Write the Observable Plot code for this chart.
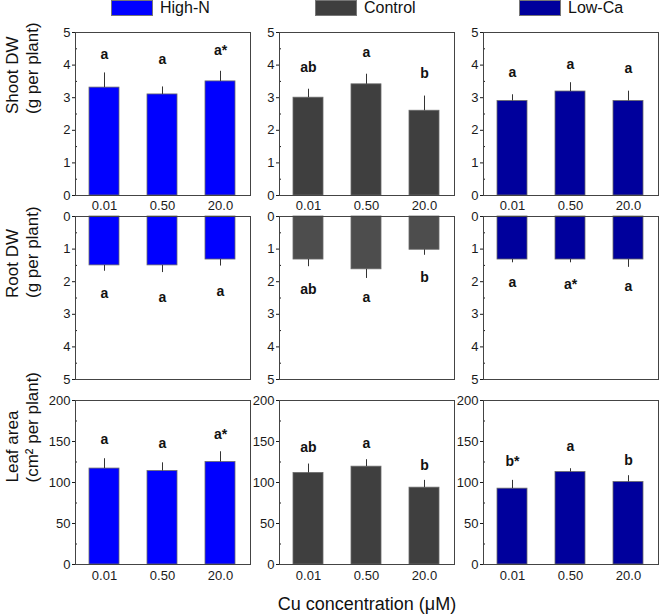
<!DOCTYPE html>
<html><head><meta charset="utf-8">
<script src="https://cdn.jsdelivr.net/npm/d3@7"></script>
<script src="https://cdn.jsdelivr.net/npm/@observablehq/plot@0.6"></script>
<style>
body{margin:0;background:#fff;font-family:"Liberation Sans",Arial,sans-serif}
#fig{position:relative;width:660px;height:615px;overflow:hidden;background:#fff}
#fig .p{position:absolute}
#fig .lg{position:absolute;top:0;display:flex;align-items:center;font-size:16px;color:#111;line-height:16px}
#fig .lg i{display:inline-block;width:40px;height:14px;border:1px solid #777;margin-right:7px;box-sizing:content-box}
</style></head><body><div id="fig"></div>
<script>
// ---- data ----
const treatments = ["High-N", "Control", "Low-Ca"];
const treatmentColors = ["#0000ff", "#3f3f3f", "#00009c"];
const rootColors = ["#0000ff", "#4d4d4d", "#00009c"];
const concs = ["0.01", "0.50", "20.0"];

// rows indexed by treatment, columns by Cu concentration
const shootMean = [[3.31, 3.10, 3.50], [3.00, 3.41, 2.60], [2.90, 3.19, 2.90]];
const shootErr  = [[0.45, 0.23, 0.31], [0.26, 0.31, 0.45], [0.19, 0.27, 0.30]];
const shootLetters = [["a", "a", "a*"], ["ab", "a", "b"], ["a", "a", "a"]];
const shootLetterY = [[4.34, 4.16, 4.46], [3.93, 4.38, 3.74], [3.78, 4.03, 3.88]];
const shootTicks = [0, 1, 2, 3, 4, 5];
const shootMinor = [0.5, 1.5, 2.5, 3.5, 4.5];

const rootMean = [[1.50, 1.50, 1.32], [1.32, 1.62, 1.02], [1.32, 1.32, 1.32]];
const rootErr  = [[0.18, 0.22, 0.20], [0.22, 0.28, 0.17], [0.10, 0.10, 0.24]];
const rootLetters = [["a", "a", "a"], ["ab", "a", "b"], ["a", "a*", "a"]];
const rootLetterY = [[2.36, 2.48, 2.30], [2.23, 2.49, 1.87], [2.03, 2.10, 2.15]];
const rootTicks = [0, 1, 2, 3, 4, 5];
const rootMinor = [0.5, 1.5, 2.5, 3.5, 4.5];

const leafMean = [[117, 114, 125], [111.6, 119.3, 93.7], [92.5, 112.8, 100.6]];
const leafErr  = [[12, 10, 12.5], [10.9, 8.5, 8.9], [10.1, 4, 7.7]];
const leafLetters = [["a", "a", "a*"], ["ab", "a", "b"], ["b*", "a", "b"]];
const leafLetterY = [[153, 147, 159], [143, 148, 121], [125.8, 144, 127]];
const leafTicks = [0, 50, 100, 150, 200];
const leafMinor = [25, 75, 125, 175];

const rowTitles = ["Shoot DW\n(g per plant)", "Root DW\n(g per plant)", "Leaf area\n(cm\u00b2 per plant)"];
const xTitle = "Cu concentration (\u03bcM)";

// ---- layout ----
const fig = document.getElementById("fig");
const rows = [
  {mean: shootMean, err: shootErr, letters: shootLetters, ly: shootLetterY, domain: [0, 5], ticks: shootTicks, minor: shootMinor, reverse: false, colors: treatmentColors, top: 22, mt: 10, h: 163, mb: 20, xAxis: true, tp: 5},
  {mean: rootMean, err: rootErr, letters: rootLetters, ly: rootLetterY, domain: [0, 5], ticks: rootTicks, minor: rootMinor, reverse: true, colors: rootColors, top: 206, mt: 10, h: 163, mb: 8, xAxis: false},
  {mean: leafMean, err: leafErr, letters: leafLetters, ly: leafLetterY, domain: [0, 200], ticks: leafTicks, minor: leafMinor, reverse: false, colors: treatmentColors, top: 390, mt: 10, h: 164, mb: 50, xAxis: true, tp: 6}
];
const cols = [{left: 0, ml: 75, mr: 3}, {left: 250, ml: 29, mr: 3}, {left: 454, ml: 29, mr: 3}];
const frameW = 175;

rows.forEach((r, ri) => {
  cols.forEach((c, ci) => {
    const data = concs.map((conc, i) => ({
      conc, value: r.mean[ci][i], err: r.err[ci][i], letter: r.letters[ci][i], ly: r.ly[ci][i]
    }));
    const marks = [
      Plot.barY(data, {x: "conc", y: "value", fill: r.colors[ci], stroke: "#6a6a6a", strokeWidth: 0.8}),
      Plot.ruleX(data, {x: "conc", y1: "value", y2: d => d.value + d.err, stroke: "#333", strokeWidth: 1}),
      Plot.text(data, {x: "conc", y: "ly", text: "letter", fontWeight: "bold", fontSize: 14, fill: "#111"}),
      Plot.axisY({ticks: r.ticks, tickSize: 3, tickPadding: 2, fontSize: 13, tickFormat: d => String(d), label: null}),
      Plot.axisY({ticks: r.minor, tickSize: -2, tickFormat: () => "", label: null}),
      Plot.frame({stroke: "#444", strokeWidth: 1})
    ];
    if (r.xAxis) marks.push(Plot.axisX({tickSize: 0, tickPadding: r.tp, fontSize: 13, label: null}));
    if (ci === 0) marks.push(Plot.text([rowTitles[ri]], {frameAnchor: "left", dx: -54, rotate: -90, fontSize: 17, lineHeight: 1.2, lineAnchor: "middle", fill: "#111"}));
    if (ri === 2 && ci === 1) marks.push(Plot.text([xTitle], {frameAnchor: "bottom", dy: 40, lineAnchor: "middle", fontSize: 18, fill: "#111"}));
    const chart = Plot.plot({
      width: c.ml + frameW + c.mr,
      height: r.mt + r.h + r.mb,
      marginLeft: c.ml, marginRight: c.mr, marginTop: r.mt, marginBottom: r.mb,
      style: {fontFamily: "'Liberation Sans', Arial, sans-serif", color: "#1a1a1a", background: "transparent", overflow: "visible"},
      x: {type: "band", domain: concs, paddingInner: 0.48, paddingOuter: 0.24, axis: r.xAxis ? undefined : null},
      y: {domain: r.domain, reverse: r.reverse},
      marks
    });
    chart.classList.add("p");
    chart.style.left = c.left + "px";
    chart.style.top = r.top + "px";
    fig.appendChild(chart);
  });
});

// legend
const legendLeft = [111, 315, 519];
treatments.forEach((t, i) => {
  const d = document.createElement("div");
  d.className = "lg";
  d.style.left = legendLeft[i] + "px";
  const sw = document.createElement("i");
  sw.style.background = treatmentColors[i];
  d.appendChild(sw);
  d.appendChild(document.createTextNode(t));
  fig.appendChild(d);
});
</script>
</body></html>
